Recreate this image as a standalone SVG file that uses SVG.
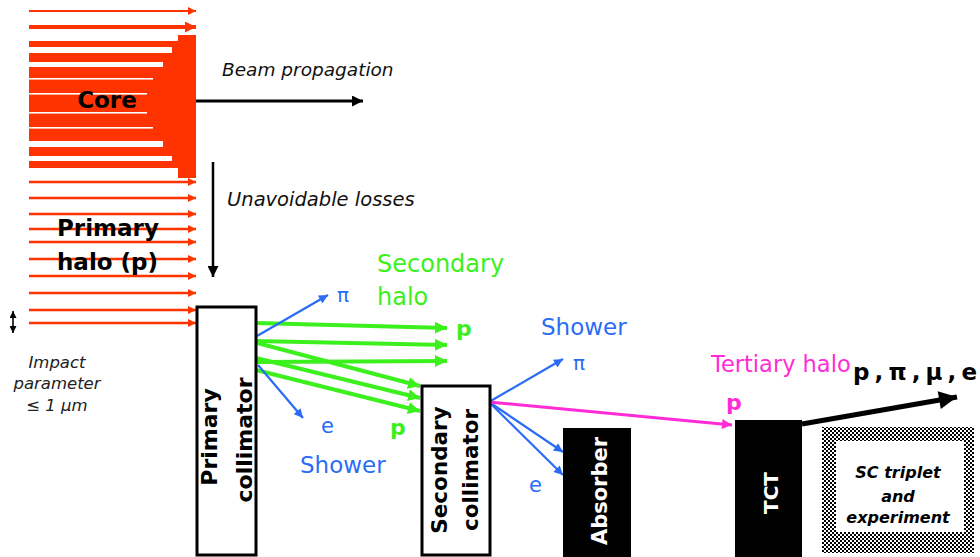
<svg xmlns="http://www.w3.org/2000/svg" width="980" height="557" viewBox="0 0 980 557">
<style>
text{font-family:"DejaVu Sans","Liberation Sans",sans-serif}
.b{font-weight:bold}
.i{font-style:italic}
.or{stroke:#ff3300;fill:none}
.gr{stroke:#3cf01e;stroke-width:4;fill:none;marker-end:url(#mg)}
.bl{stroke:#2a6cf5;stroke-width:2.2;fill:none;marker-end:url(#mb)}
.box{fill:#fff;stroke:#000;stroke-width:3}
</style>
<defs>
<marker id="mo" viewBox="0 0 10 10" refX="10" refY="5" markerWidth="9" markerHeight="8" orient="auto" markerUnits="userSpaceOnUse"><path d="M0,0L10,5L0,10z" fill="#ff3300"/></marker>
<marker id="mo2" viewBox="0 0 10 10" refX="10" refY="5" markerWidth="11" markerHeight="11" orient="auto" markerUnits="userSpaceOnUse"><path d="M0,0L10,5L0,10z" fill="#ff3300"/></marker>
<marker id="mk" viewBox="0 0 10 10" refX="10" refY="5" markerWidth="12" markerHeight="11" orient="auto" markerUnits="userSpaceOnUse"><path d="M0,0L10,5L0,10z" fill="#000"/></marker>
<marker id="mkb" viewBox="0 0 10 10" refX="10" refY="5" markerWidth="20" markerHeight="18" orient="auto" markerUnits="userSpaceOnUse"><path d="M0,0L10,5L0,10z" fill="#000"/></marker>
<marker id="mg" viewBox="0 0 10 10" refX="10" refY="5" markerWidth="12" markerHeight="12" orient="auto" markerUnits="userSpaceOnUse"><path d="M0,0L10,5L0,10z" fill="#3cf01e"/></marker>
<marker id="mb" viewBox="0 0 10 10" refX="10" refY="5" markerWidth="10" markerHeight="9" orient="auto" markerUnits="userSpaceOnUse"><path d="M0,0L10,5L0,10z" fill="#2a6cf5"/></marker>
<marker id="mm" viewBox="0 0 10 10" refX="10" refY="5" markerWidth="12" markerHeight="10" orient="auto" markerUnits="userSpaceOnUse"><path d="M0,0L10,5L0,10z" fill="#ff2bd6"/></marker>
<marker id="mda" viewBox="0 0 10 10" refX="10" refY="5" markerWidth="7" markerHeight="7" orient="auto-start-reverse" markerUnits="userSpaceOnUse"><path d="M0,0L10,5L0,10z" fill="#000"/></marker>
<pattern id="chk" width="4" height="4" patternUnits="userSpaceOnUse"><rect width="4" height="4" fill="#fff"/><rect width="2" height="2" fill="#000"/><rect x="2" y="2" width="2" height="2" fill="#000"/></pattern>
</defs>

<g id="beam">
<line class="or" x1="29" y1="11" x2="196" y2="11" stroke-width="2" marker-end="url(#mo)"/>
<line class="or" x1="29" y1="27" x2="196" y2="27" stroke-width="4" marker-end="url(#mo2)"/>
<g id="core">
<rect x="29" y="41" width="150" height="127" fill="#ff3300"/>
<rect x="178" y="35" width="18" height="143" fill="#ff3300"/>
<g fill="#fff">
<rect x="29" y="47" width="143" height="6"/>
<rect x="29" y="62" width="134" height="5"/>
<rect x="29" y="78" width="124" height="1.6"/>
<rect x="29" y="93" width="118" height="1.6"/>
<rect x="29" y="112" width="118" height="1.6"/>
<rect x="29" y="127" width="124" height="1.6"/>
<rect x="29" y="141" width="134" height="6"/>
<rect x="29" y="156" width="143" height="5"/>
</g>
<text x="107" y="108" class="b" font-size="23" text-anchor="middle">Core</text>
</g>
<g id="halo">
<line class="or" x1="29" y1="182" x2="196" y2="182" stroke-width="2.5" marker-end="url(#mo)"/>
<line class="or" x1="29" y1="198" x2="196" y2="198" stroke-width="2.5" marker-end="url(#mo)"/>
<line class="or" x1="29" y1="214" x2="196" y2="214" stroke-width="2.5" marker-end="url(#mo)"/>
<line class="or" x1="29" y1="229" x2="196" y2="229" stroke-width="2.5" marker-end="url(#mo)"/>
<line class="or" x1="29" y1="242" x2="196" y2="242" stroke-width="2.5" marker-end="url(#mo)"/>
<line class="or" x1="29" y1="259" x2="196" y2="259" stroke-width="2.5" marker-end="url(#mo)"/>
<line class="or" x1="29" y1="276" x2="196" y2="276" stroke-width="2.5" marker-end="url(#mo)"/>
<line class="or" x1="29" y1="293" x2="196" y2="293" stroke-width="2.5" marker-end="url(#mo)"/>
<line class="or" x1="29" y1="310" x2="196" y2="310" stroke-width="2.5" marker-end="url(#mo)"/>
<line class="or" x1="29" y1="323" x2="196" y2="323" stroke-width="2.5" marker-end="url(#mo)"/>
<text x="57" y="236" class="b" font-size="23">Primary</text>
<text x="57" y="270" class="b" font-size="23">halo (p)</text>
</g>
</g>

<g id="impact">
<line x1="13" y1="311" x2="13" y2="333" stroke="#000" stroke-width="1.6" marker-start="url(#mda)" marker-end="url(#mda)"/>
<text class="i" font-size="16.5" fill="#222" text-anchor="middle"><tspan x="57" y="368">Impact</tspan><tspan x="57" y="389">parameter</tspan><tspan x="57" y="411">≤ 1 μm</tspan></text>
</g>

<g id="labels">
<text x="222" y="76" class="i" font-size="18.5" fill="#111">Beam propagation</text>
<text x="227" y="206" class="i" font-size="19.5" fill="#111">Unavoidable losses</text>
<text fill="#3cf01e" font-size="24"><tspan x="377" y="272">Secondary</tspan><tspan x="377" y="305">halo</tspan></text>
<text x="456" y="336" class="b" font-size="22" fill="#3cf01e">p</text>
<text x="390" y="435" class="b" font-size="22" fill="#3cf01e">p</text>
<text x="337" y="302" font-size="20" fill="#2a6cf5">π</text>
<text x="321" y="433" font-size="21" fill="#2a6cf5">e</text>
<text x="300" y="473" font-size="23" fill="#2a6cf5">Shower</text>
<text x="541" y="335" font-size="23" fill="#2a6cf5">Shower</text>
<text x="573" y="370" font-size="20" fill="#2a6cf5">π</text>
<text x="529" y="492" font-size="21" fill="#2a6cf5">e</text>
<text x="711" y="372" font-size="22.5" fill="#ff2bd6">Tertiary halo</text>
<text x="726" y="410" class="b" font-size="22" fill="#ff2bd6">p</text>
<text x="853" y="380" class="b" font-size="23" textLength="124" lengthAdjust="spacing">p,π,μ,e</text>
</g>

<g id="connectors">
<line x1="196" y1="101" x2="363" y2="101" stroke="#000" stroke-width="3" marker-end="url(#mk)"/>
<line x1="213" y1="162" x2="213" y2="277" stroke="#000" stroke-width="2.5" marker-end="url(#mk)"/>
<line class="gr" x1="256" y1="323" x2="447" y2="328"/>
<line class="gr" x1="250" y1="341" x2="447" y2="345"/>
<line class="gr" x1="256" y1="362" x2="447" y2="361"/>
<line class="gr" x1="250" y1="341" x2="420" y2="386"/>
<line class="gr" x1="256" y1="358" x2="420" y2="398"/>
<line class="gr" x1="256" y1="370" x2="420" y2="411"/>
<line class="bl" x1="257" y1="336" x2="328" y2="295"/>
<line class="bl" x1="258" y1="365" x2="303" y2="418"/>
<line class="bl" x1="489" y1="402" x2="563" y2="359"/>
<line class="bl" x1="489" y1="402" x2="563" y2="452"/>
<line class="bl" x1="489" y1="402" x2="563" y2="475"/>
<line x1="489" y1="402" x2="732" y2="425" stroke="#ff2bd6" stroke-width="3" marker-end="url(#mm)"/>
<line x1="802" y1="424" x2="957" y2="397" stroke="#000" stroke-width="5" marker-end="url(#mkb)"/>
</g>

<g id="primary-collimator">
<rect class="box" x="197" y="307" width="59" height="248"/>
<text transform="translate(217 437) rotate(-90)" class="b" font-size="22" text-anchor="middle">Primary</text>
<text transform="translate(252 440) rotate(-90)" class="b" font-size="22" text-anchor="middle">collimator</text>
</g>

<g id="secondary-collimator">
<rect class="box" x="422" y="386" width="68" height="169"/>
<text transform="translate(447 470) rotate(-90)" class="b" font-size="21.5" text-anchor="middle">Secondary</text>
<text transform="translate(478 470) rotate(-90)" class="b" font-size="21.5" text-anchor="middle">collimator</text>
</g>

<g id="absorber">
<rect x="563" y="428" width="68" height="129" fill="#000"/>
<text transform="translate(607 491) rotate(-90)" class="b" font-size="21" fill="#fff" text-anchor="middle">Absorber</text>
</g>

<g id="tct">
<rect x="735" y="420" width="67" height="137" fill="#000"/>
<text transform="translate(778 493) rotate(-90)" class="b" font-size="20" fill="#fff" text-anchor="middle">TCT</text>
</g>

<g id="sc-triplet">
<rect x="822" y="427" width="152" height="126" fill="url(#chk)"/>
<rect x="836" y="441" width="128" height="91" fill="#fff"/>
<text class="b i" font-size="16" text-anchor="middle"><tspan x="898" y="478">SC triplet</tspan><tspan x="898" y="502">and</tspan><tspan x="898" y="523">experiment</tspan></text>
</g>
</svg>
